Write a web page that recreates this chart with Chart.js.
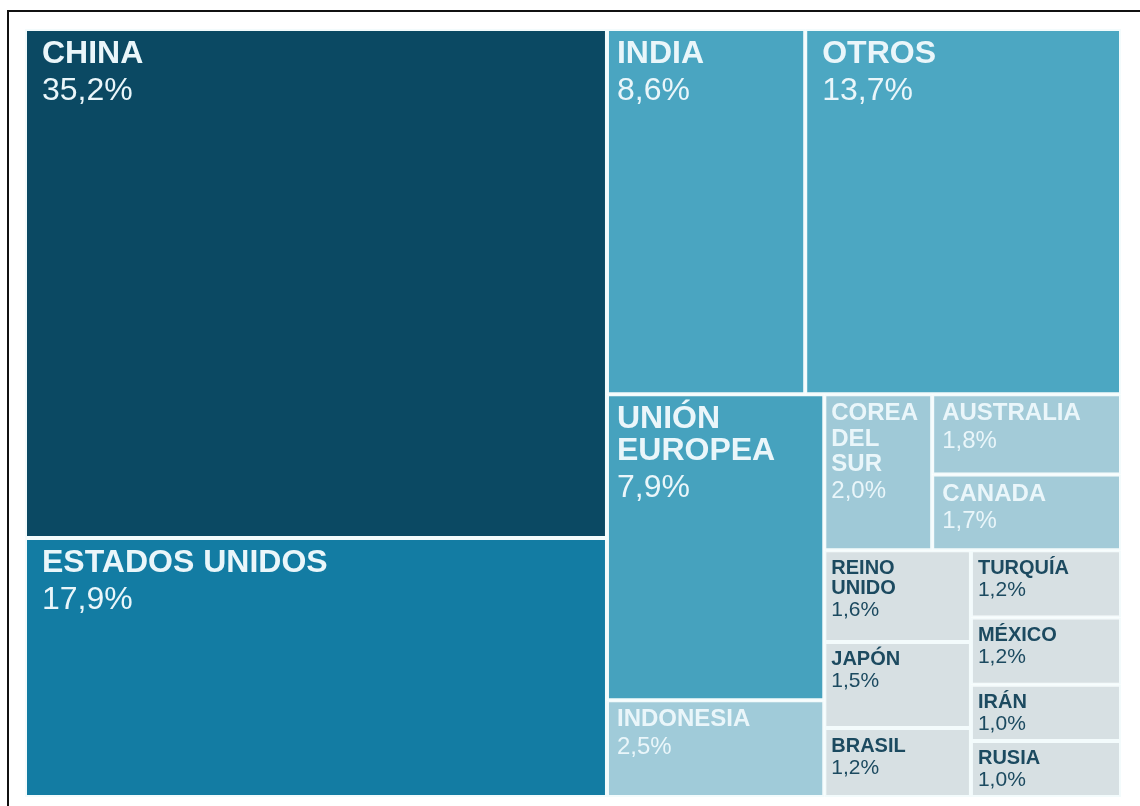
<!DOCTYPE html>
<html>
<head>
<meta charset="utf-8">
<script src="https://cdn.jsdelivr.net/npm/chart.js@4"></script>
<style>
  html, body { margin: 0; padding: 0; background: #fff; }
  #marco {
    position: absolute; left: 7px; top: 10px;
    width: 1131px; height: 794px;
    border-top: 2px solid #111; border-left: 2px solid #111;
  }
  canvas { display: block; }
</style>
</head>
<body>
<div id="marco"><canvas id="emisiones" width="1131" height="794"></canvas></div>
<script>
// Países y su porcentaje de emisiones
const paises = [
  "CHINA", "ESTADOS UNIDOS", "INDIA", "OTROS", "UNIÓN\nEUROPEA", "INDONESIA",
  "COREA\nDEL\nSUR", "AUSTRALIA", "CANADA", "REINO\nUNIDO", "JAPÓN", "BRASIL",
  "TURQUÍA", "MÉXICO", "IRÁN", "RUSIA"
];
const porcentajes = [35.2, 17.9, 8.6, 13.7, 7.9, 2.5, 2.0, 1.8, 1.7, 1.6, 1.5, 1.2, 1.2, 1.2, 1.0, 1.0];

// Agrupación de las celdas: "h" reparte en horizontal, "v" en vertical
const arbol = ["h",
  ["v", 0, 1],
  ["v",
    ["h", 2, 3],
    ["h",
      ["v", 4, 5],
      ["v",
        ["h", 6, ["v", 7, 8]],
        ["h", ["v", 9, 10, 11], ["v", 12, 13, 14, 15]]
      ]
    ]
  ]
];

const fondos = [
  "#0b4963", "#137ca3", "#4aa5c1", "#4ca7c2", "#46a2be", "#a0cbd9",
  "#9fc9d7", "#a3cbd8", "#a3cbd8", "#d7e0e3", "#d7e0e3", "#d7e0e3",
  "#d7e0e3", "#d7e0e3", "#d7e0e3", "#d7e0e3"
];

function suma(nodo, valores) {
  if (typeof nodo === "number") return valores[nodo];
  return nodo.slice(1).reduce((s, n) => s + suma(n, valores), 0);
}

// slice-and-dice sobre el árbol, en unidades de las escalas (0..100)
function repartir(nodo, valores, caja, salida) {
  if (typeof nodo === "number") { salida[nodo] = caja; return salida; }
  const dir = nodo[0];
  const hijos = nodo.slice(1);
  const total = suma(nodo, valores);
  let pos = dir === "h" ? caja.x0 : caja.y1;
  hijos.forEach(h => {
    const f = suma(h, valores) / total;
    if (dir === "h") {
      const ancho = (caja.x1 - caja.x0) * f;
      repartir(h, valores, { x0: pos, x1: pos + ancho, y0: caja.y0, y1: caja.y1 }, salida);
      pos += ancho;
    } else {
      const alto = (caja.y1 - caja.y0) * f;
      repartir(h, valores, { x0: caja.x0, x1: caja.x1, y0: pos - alto, y1: pos }, salida);
      pos -= alto;
    }
  });
  return salida;
}

class TreemapController extends Chart.DatasetController {
  static id = "treemap";
  static defaults = { datasetElementType: false, dataElementType: "bar" };

  update(mode) {
    const meta = this._cachedMeta;
    this.updateElements(meta.data, 0, meta.data.length, mode);
  }

  updateElements(rects, start, count, mode) {
    const { xScale, yScale } = this._cachedMeta;
    const cajas = repartir(arbol, this.getDataset().data, { x0: 0, x1: 100, y0: 0, y1: 100 }, []);
    for (let i = start; i < start + count; i++) {
      const c = cajas[i];
      const left = xScale.getPixelForValue(c.x0);
      const right = xScale.getPixelForValue(c.x1);
      const top = yScale.getPixelForValue(c.y1);
      const bottom = yScale.getPixelForValue(c.y0);
      this.updateElement(rects[i], i, {
        x: (left + right) / 2,
        y: top,
        base: bottom,
        width: right - left,
        horizontal: false,
        inflateAmount: 0,
        borderSkipped: { top: false, bottom: false, left: false, right: false },
        options: this.resolveDataElementOptions(i, mode)
      }, mode);
    }
  }
}
Chart.register(TreemapController);

// Nombre y porcentaje dentro de cada celda
const etiquetas = {
  id: "etiquetas",
  afterDatasetsDraw(chart) {
    const ctx = chart.ctx;
    const meta = chart.getDatasetMeta(0);
    const valores = chart.data.datasets[0].data;
    meta.data.forEach((rect, i) => {
      const { x, y, width } = rect.getProps(["x", "y", "width"]);
      const v = valores[i];
      const left = x - width / 2 + 2;
      const top = y + 2;
      const w = width - 4;
      const grande = v >= 5, media = !grande && v >= 1.7;
      const talla = grande ? 32 : media ? 24 : 20;
      const pad = w > 300 ? 15 : w > 150 ? 8 : 5;
      const pasoNombre = grande ? talla * 1.0 : media ? talla * 1.05 : talla * 1.0;
      const pasoValor = grande ? talla * 1.15 : media ? talla * 1.15 : talla * 1.1;
      ctx.save();
      ctx.fillStyle = grande || media ? "#eaf6fa" : "#1c4a60";
      ctx.textBaseline = "alphabetic";
      ctx.textAlign = "left";
      const lineas = chart.data.labels[i].split("\n");
      let base = top + (grande ? 9 : 7) + talla * 0.72;
      ctx.font = "bold " + talla + "px 'Liberation Sans', Arial, sans-serif";
      lineas.forEach((linea, k) => {
        ctx.fillText(linea, left + pad, base);
        base += k < lineas.length - 1 ? pasoNombre : pasoValor;
      });
      ctx.font = (grande || media ? talla : talla + 1) + "px 'Liberation Sans', Arial, sans-serif";
      ctx.fillText(v.toFixed(1).replace(".", ",") + "%", left + pad, base);
      ctx.restore();
    });
  }
};

new Chart(document.getElementById("emisiones"), {
  type: "treemap",
  data: {
    labels: paises,
    datasets: [{
      data: porcentajes,
      backgroundColor: fondos,
      borderColor: "#f3fbfc",
      borderWidth: 2
    }]
  },
  options: {
    responsive: false,
    animation: false,
    events: [],
    layout: { padding: { left: 16, right: 19, top: 17, bottom: 9 } },
    scales: {
      x: { type: "linear", min: 0, max: 100, display: false },
      y: { type: "linear", min: 0, max: 100, display: false }
    },
    plugins: {
      legend: { display: false },
      tooltip: { enabled: false }
    }
  },
  plugins: [etiquetas]
});
</script>
</body>
</html>
